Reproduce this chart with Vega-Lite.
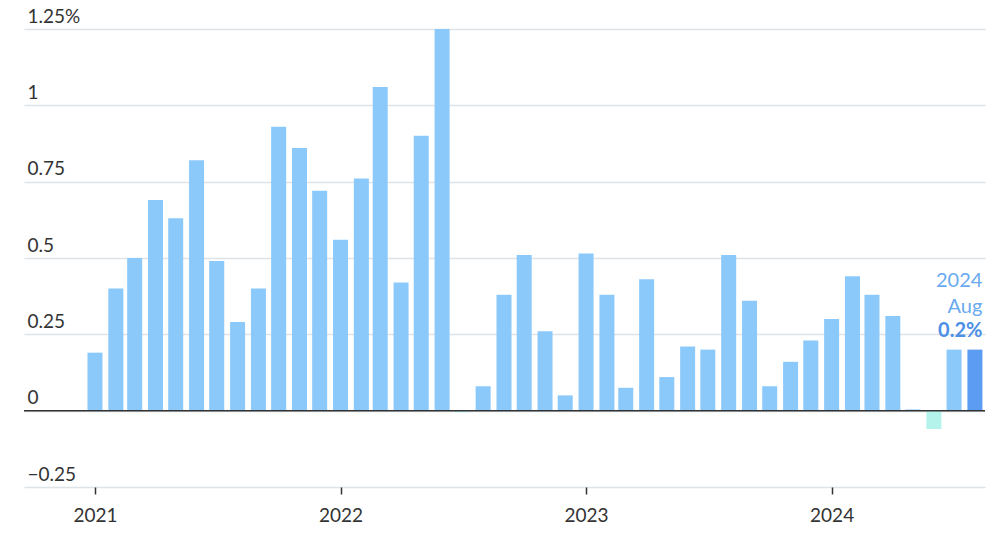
{
  "$schema": "https://vega.github.io/schema/vega-lite/v6.json",
  "autosize": {"type": "none"},
  "width": 961,
  "height": 458,
  "padding": {"left": 24, "top": 29, "right": 15, "bottom": 52},
  "background": "#ffffff",
  "config": {"view": {"stroke": null}, "font": "Lato"},
  "data": {"values": [
    {"month": "2021-01-01", "value": 0.19},
    {"month": "2021-02-01", "value": 0.40},
    {"month": "2021-03-01", "value": 0.50},
    {"month": "2021-04-01", "value": 0.69},
    {"month": "2021-05-01", "value": 0.63},
    {"month": "2021-06-01", "value": 0.82},
    {"month": "2021-07-01", "value": 0.49},
    {"month": "2021-08-01", "value": 0.29},
    {"month": "2021-09-01", "value": 0.40},
    {"month": "2021-10-01", "value": 0.93},
    {"month": "2021-11-01", "value": 0.86},
    {"month": "2021-12-01", "value": 0.72},
    {"month": "2022-01-01", "value": 0.56},
    {"month": "2022-02-01", "value": 0.76},
    {"month": "2022-03-01", "value": 1.06},
    {"month": "2022-04-01", "value": 0.42},
    {"month": "2022-05-01", "value": 0.90},
    {"month": "2022-06-01", "value": 1.25},
    {"month": "2022-07-01", "value": -0.005},
    {"month": "2022-08-01", "value": 0.08},
    {"month": "2022-09-01", "value": 0.38},
    {"month": "2022-10-01", "value": 0.51},
    {"month": "2022-11-01", "value": 0.26},
    {"month": "2022-12-01", "value": 0.05},
    {"month": "2023-01-01", "value": 0.515},
    {"month": "2023-02-01", "value": 0.38},
    {"month": "2023-03-01", "value": 0.075},
    {"month": "2023-04-01", "value": 0.43},
    {"month": "2023-05-01", "value": 0.11},
    {"month": "2023-06-01", "value": 0.21},
    {"month": "2023-07-01", "value": 0.20},
    {"month": "2023-08-01", "value": 0.51},
    {"month": "2023-09-01", "value": 0.36},
    {"month": "2023-10-01", "value": 0.08},
    {"month": "2023-11-01", "value": 0.16},
    {"month": "2023-12-01", "value": 0.23},
    {"month": "2024-01-01", "value": 0.30},
    {"month": "2024-02-01", "value": 0.44},
    {"month": "2024-03-01", "value": 0.38},
    {"month": "2024-04-01", "value": 0.31},
    {"month": "2024-05-01", "value": 0.004},
    {"month": "2024-06-01", "value": -0.06},
    {"month": "2024-07-01", "value": 0.20},
    {"month": "2024-08-01", "value": 0.20}
  ]},
  "encoding": {
    "x": {
      "field": "month",
      "type": "temporal",
      "scale": {"type": "utc", "padding": 0, "domain": [
        {"year": 2020, "month": 9, "date": 17, "hours": 12, "utc": true},
        {"year": 2024, "month": 8, "date": 16, "utc": true}
      ]},
      "axis": {
        "title": null,
        "format": "%Y",
        "tickCount": {"interval": "year", "step": 1},
        "grid": false,
        "domain": false,
        "ticks": true,
        "tickSize": 7,
        "tickWidth": 1.5,
        "tickColor": "#333333",
        "labelFontSize": 19,
        "labelColor": "#333333",
        "labelPadding": 12,
        "labelFlush": false
      }
    }
  },
  "layer": [
    {
      "mark": {"type": "bar", "size": 15},
      "encoding": {
        "y": {
          "field": "value",
          "type": "quantitative",
          "scale": {"domain": [-0.25, 1.25], "nice": false},
          "axis": {
            "title": null,
            "values": [-0.25, 0, 0.25, 0.5, 0.75, 1, 1.25],
            "labelExpr": "datum.value == 1.25 ? '1.25%' : (datum.value < 0 ? '\u22120.25' : format(datum.value, '~g'))",
            "domain": false,
            "ticks": false,
            "grid": true,
            "gridColor": "#dde3e6",
            "gridWidth": 1.5,
            "labelAlign": "left",
            "labelBaseline": "bottom",
            "labelPadding": -3,
            "labelOffset": -3,
            "labelFontSize": 19,
            "labelColor": "#333333"
          }
        },
        "color": {
          "condition": [
            {"test": "datum.value < 0", "value": "#b4f3ec"},
            {"test": "utcyear(datum.month) == 2024 && utcmonth(datum.month) == 7", "value": "#5c9cf2"}
          ],
          "value": "#8bc9fb"
        }
      }
    },
    {
      "data": {"values": [{"zero": 0}]},
      "mark": {"type": "rule", "color": "#333333", "strokeWidth": 1.5},
      "encoding": {"y": {"field": "zero", "type": "quantitative"}, "x": null}
    },
    {
      "transform": [{"filter": "utcyear(toDate(datum.month)) == 2024 && utcmonth(toDate(datum.month)) == 7"}],
      "mark": {"type": "text", "align": "right", "baseline": "alphabetic", "dx": 7.5, "dy": -63, "fontSize": 20, "color": "#6aaaf0", "lineHeight": 26, "text": ["2024", "Aug"]},
      "encoding": {"y": {"field": "value", "type": "quantitative"}}
    },
    {
      "transform": [{"filter": "utcyear(toDate(datum.month)) == 2024 && utcmonth(toDate(datum.month)) == 7"}],
      "mark": {"type": "text", "align": "right", "baseline": "alphabetic", "dx": 7.5, "dy": -13, "fontSize": 20, "fontWeight": "bold", "color": "#4d8fe6", "text": "0.2%"},
      "encoding": {"y": {"field": "value", "type": "quantitative"}}
    }
  ]
}
